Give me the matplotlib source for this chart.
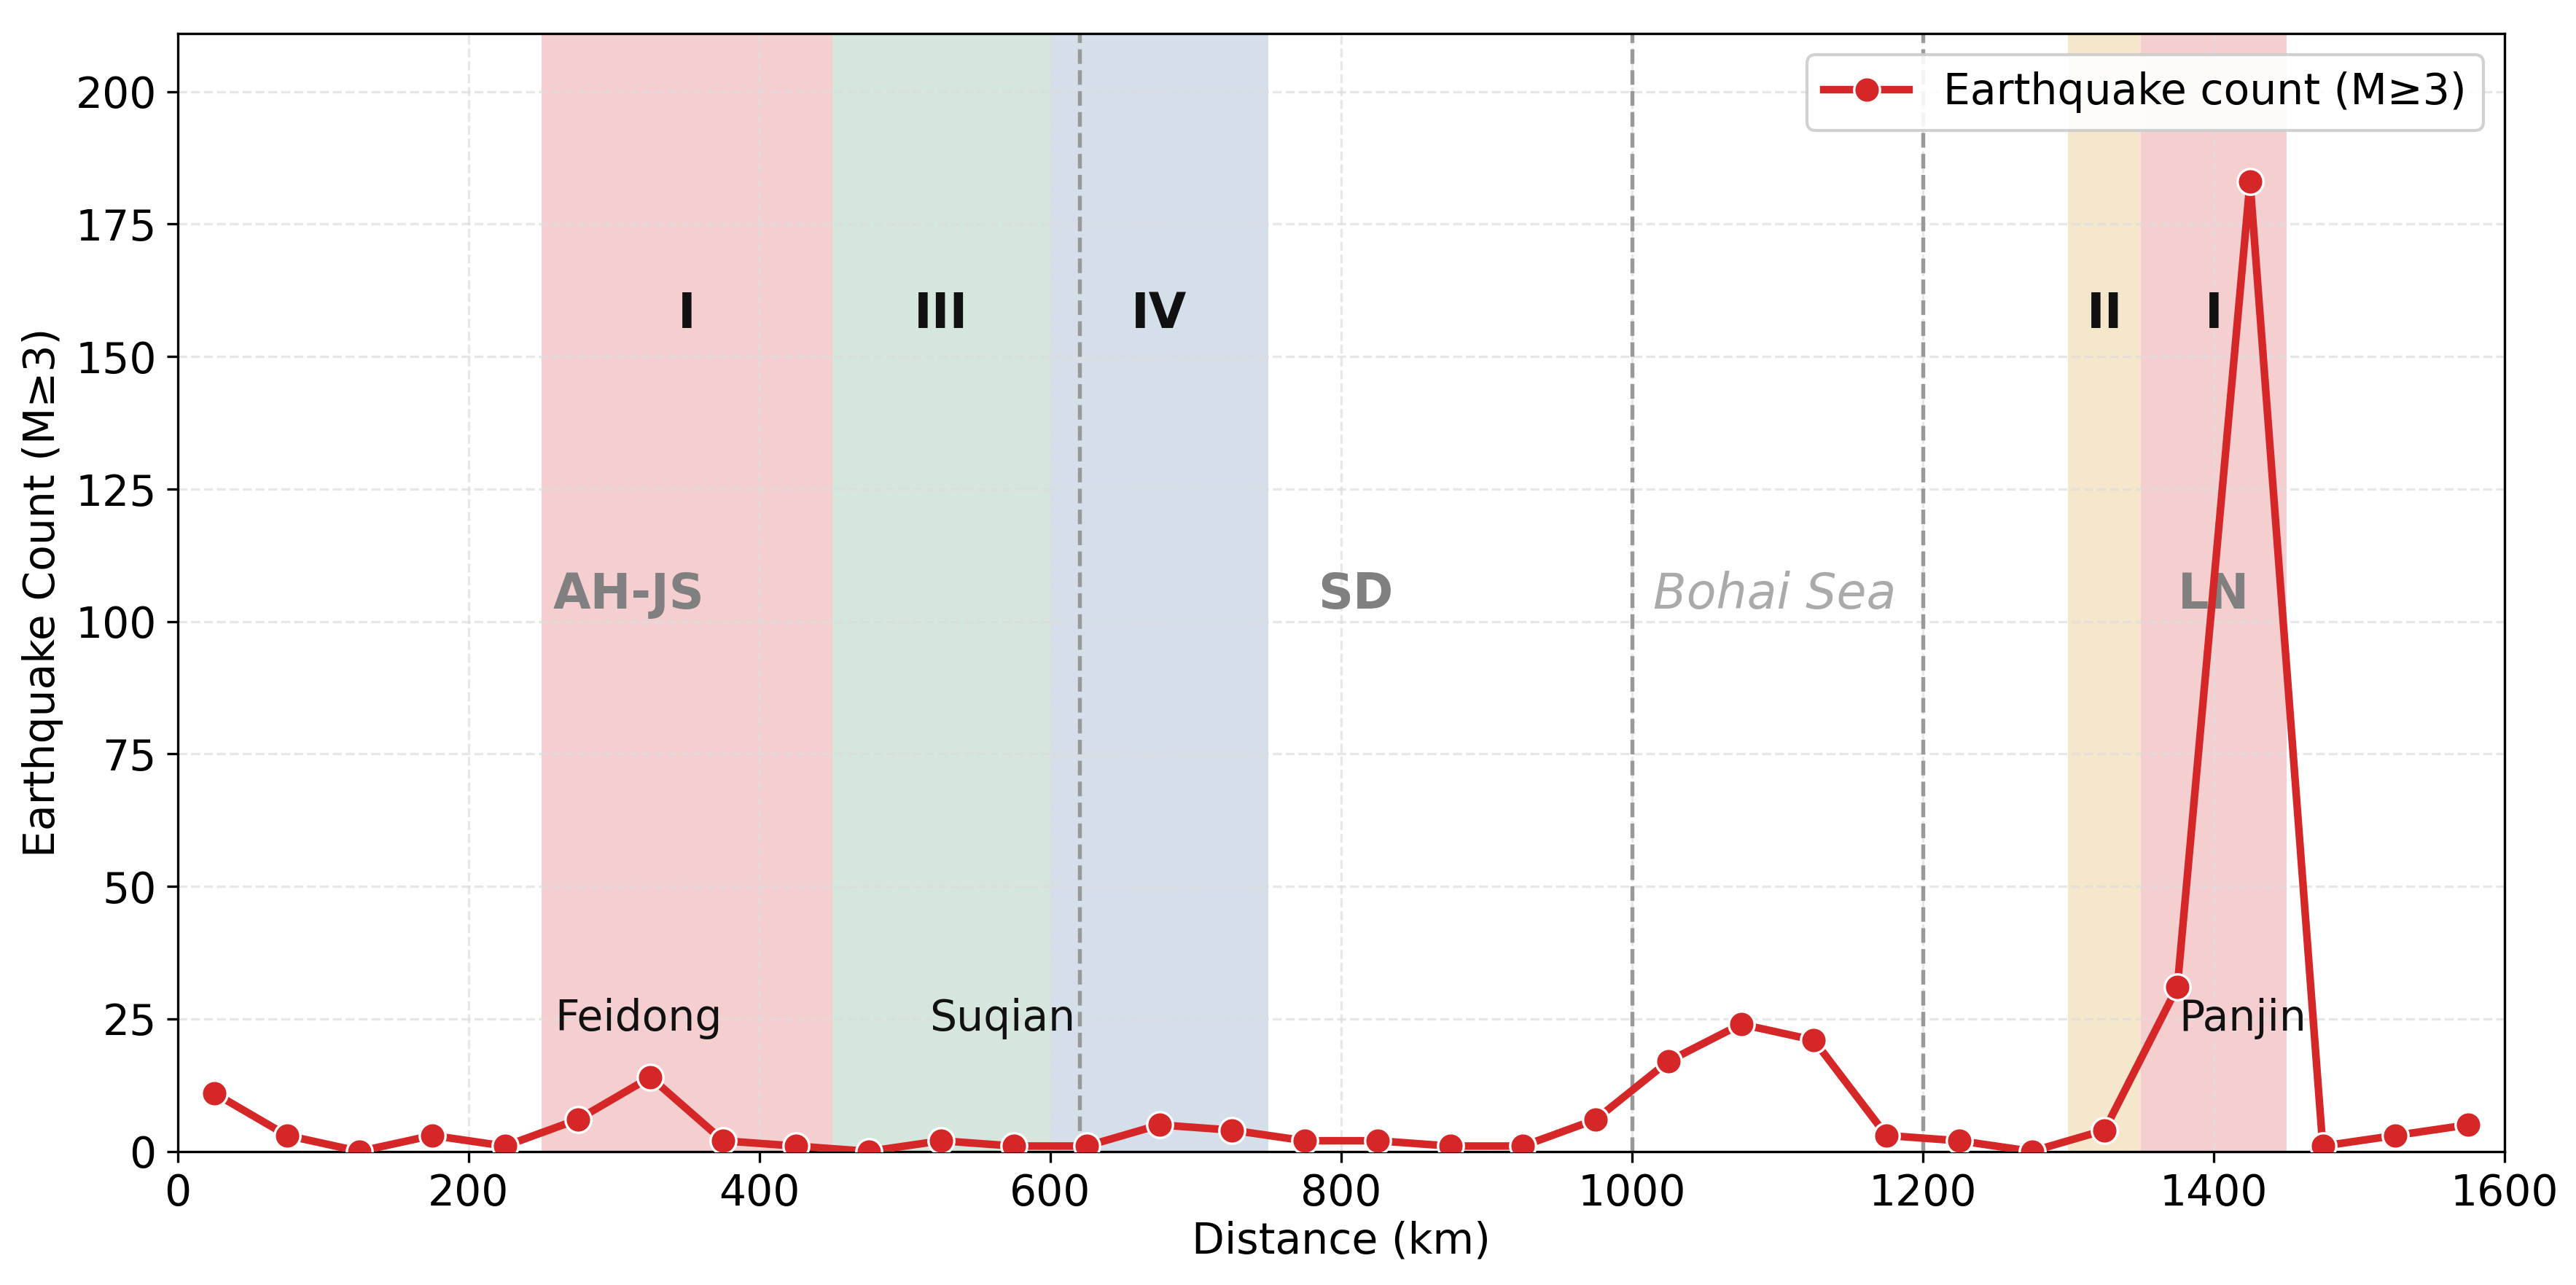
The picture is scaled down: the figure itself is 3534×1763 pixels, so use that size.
import matplotlib
matplotlib.use("Agg")
import matplotlib.pyplot as plt

# bin centres along the profile (km) and event counts per bin
distance = [25, 75, 125, 175, 225, 275, 325, 375, 425, 475, 525, 575, 625, 675, 725, 775,
            825, 875, 925, 975, 1025, 1075, 1125, 1175, 1225, 1275, 1325, 1375, 1425, 1475, 1525, 1575]
counts = [11, 3, 0, 3, 1, 6, 14, 2, 1, 0, 2, 1, 1, 5, 4, 2,
          2, 1, 1, 6, 17, 24, 21, 3, 2, 0, 4, 31, 183, 1, 3, 5]

# shaded zones: (start, end, colour, roman label, label x)
zones = [
    (250, 450, '#f5cfd0', 'I', 350),
    (450, 600, '#d5e7dc', 'III', 525),
    (600, 750, '#d4dfea', 'IV', 675),
    (1300, 1350, '#f5e7cc', 'II', 1325),
    (1350, 1450, '#f5cfd0', 'I', 1400),
]
boundaries = [620, 1000, 1200]
regions = [('AH-JS', 310), ('SD', 810), ('LN', 1400)]
towns = [('Feidong', 317), ('Suqian', 567), ('Panjin', 1420)]

fig = plt.figure(figsize=(11.783, 5.877), dpi=300)
ax = fig.add_axes([0.069, 0.104, 0.903, 0.870])

for x0, x1, c, lab, lx in zones:
    ax.axvspan(x0, x1, color=c, zorder=0, lw=0)
    ax.text(lx, 158, lab, ha='center', va='center', fontsize=16, fontweight='bold', color='#111111')

for b in boundaries:
    ax.axvline(b, color='#999999', linestyle='--', linewidth=1.3, zorder=1)

for name, x in regions:
    ax.text(x, 105, name, ha='center', va='center', fontsize=16, fontweight='bold', color='#808080')
ax.text(1098, 105, 'Bohai Sea', ha='center', va='center', fontsize=16, style='italic', color='#aaaaaa')

for name, x in towns:
    ax.text(x, 25, name, ha='center', va='center', fontsize=14, color='#111111')

ax.plot(distance, counts, color='#d62728', linewidth=2.5, marker='o', markersize=8.5,
        markeredgecolor='white', markeredgewidth=0.8, label='Earthquake count (M≥3)', zorder=3)

ax.set_xlim(0, 1600)
ax.set_ylim(0, 211)
ax.set_xticks(range(0, 1601, 200))
ax.set_yticks(range(0, 201, 25))
ax.tick_params(labelsize=14)
ax.set_xlabel('Distance (km)', fontsize=14, labelpad=2)
ax.set_ylabel('Earthquake Count (M≥3)', fontsize=14)
ax.grid(True, linestyle='--', color='#dddddd', alpha=0.7, linewidth=0.8)
ax.set_axisbelow(True)
ax.legend(loc='upper right', fontsize=14, framealpha=0.9)

fig.savefig('out.png', dpi=300)
